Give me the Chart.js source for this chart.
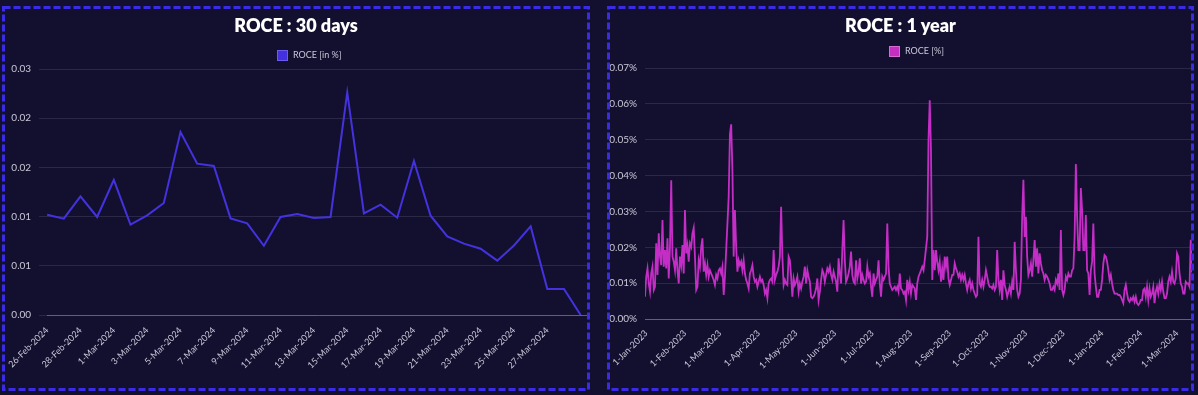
<!DOCTYPE html>
<html><head><meta charset="utf-8">
<script src="https://cdn.jsdelivr.net/npm/chart.js@4.4.1/dist/chart.umd.min.js"></script>
<style>
html,body{margin:0;padding:0;background:#13102f;width:1198px;height:395px;overflow:hidden;font-family:Lato,sans-serif;}
svg.frame{position:absolute;left:0;top:0;z-index:2;pointer-events:none}
canvas{position:absolute;top:0}
.title{position:absolute;color:#fff;font-weight:800;font-size:18px;text-align:center;top:14px;line-height:22px;z-index:3}
.legend{position:absolute;color:#c9c7d8;font-size:9px;line-height:12px;z-index:3;white-space:nowrap}
.legend i{display:inline-block;width:11px;height:11px;vertical-align:middle;margin-right:5px;box-sizing:border-box}
</style></head><body>
<svg class="frame" width="1198" height="395">
  <rect x="3.5" y="7.5" width="585" height="382" fill="none" stroke="#3a2ce6" stroke-width="3" stroke-dasharray="7 3"/>
  <rect x="608.5" y="7.5" width="584" height="382" fill="none" stroke="#3a2ce6" stroke-width="3" stroke-dasharray="7 3"/>
</svg>
<div class="title" style="left:2px;width:588px">ROCE : 30 days</div>
<div class="title" style="left:607px;width:587px">ROCE : 1 year</div>
<div class="legend" style="left:277px;top:49px"><i style="background:#4431dd;border:1px solid #6a5cf0"></i>ROCE [in %]</div>
<div class="legend" style="left:889px;top:45px"><i style="background:#c42fc2;border:1px solid #d86ad6"></i>ROCE [%]</div>
<canvas id="c1" width="600" height="395" style="left:0"></canvas>
<canvas id="c2" width="598" height="395" style="left:600px"></canvas>
<script>
// ---------- Left chart data (30 days) ----------
const leftStart = '2024-02-26';
const leftValues = [0.01019,0.00979,0.01205,0.00996,0.01372,0.00918,0.01012,0.01138,0.0186,0.01538,
  0.01514,0.00982,0.00931,0.00704,0.00996,0.01026,0.00986,0.00996,0.02262,0.01033,
  0.01121,0.00989,0.01565,0.01009,0.00799,0.00725,0.00674,0.00552,0.00707,0.009,
  0.00264,0.00264,0.0];
const leftXTickLabels = ['26-Feb-2024','28-Feb-2024','1-Mar-2024','3-Mar-2024','5-Mar-2024','7-Mar-2024',
  '9-Mar-2024','11-Mar-2024','13-Mar-2024','15-Mar-2024','17-Mar-2024','19-Mar-2024','21-Mar-2024',
  '23-Mar-2024','25-Mar-2024','27-Mar-2024'];
const leftYTickLabels = ['0.00','0.01','0.01','0.02','0.02','0.03'];

// ---------- Right chart data (1 year, daily, in %) ----------
const rightStart = '2022-12-31';
const rightValues = [
0.0062,0.0118,0.0141,0.0099,0.0076,0.0127,0.0146,0.0081,0.0090,0.0211,
0.0123,0.0239,0.0174,0.0150,0.0276,0.0146,0.0192,0.0141,0.0225,0.0113,
0.0201,0.0387,0.0174,0.0160,0.0136,0.0197,0.0136,0.0099,0.0174,0.0150,
0.0206,0.0127,0.0304,0.0183,0.0206,0.0160,0.0211,0.0201,0.0239,0.0254,
0.0174,0.0081,0.0090,0.0164,0.0146,0.0201,0.0225,0.0132,0.0155,0.0123,
0.0150,0.0118,0.0136,0.0127,0.0118,0.0109,0.0095,0.0123,0.0113,0.0136,
0.0141,0.0127,0.0146,0.0067,0.0118,0.0192,0.0266,0.0340,0.0515,0.0543,
0.0415,0.0174,0.0304,0.0201,0.0132,0.0164,0.0150,0.0160,0.0136,0.0164,
0.0127,0.0109,0.0099,0.0085,0.0127,0.0136,0.0150,0.0118,0.0104,0.0109,
0.0090,0.0104,0.0118,0.0104,0.0109,0.0095,0.0071,0.0081,0.0058,0.0099,
0.0109,0.0113,0.0104,0.0192,0.0109,0.0123,0.0132,0.0146,0.0174,0.0313,
0.0174,0.0095,0.0109,0.0099,0.0095,0.0174,0.0164,0.0118,0.0062,0.0113,
0.0095,0.0104,0.0118,0.0076,0.0099,0.0085,0.0104,0.0118,0.0146,0.0099,
0.0136,0.0118,0.0104,0.0062,0.0058,0.0062,0.0071,0.0085,0.0113,0.0053,
0.0076,0.0109,0.0136,0.0127,0.0104,0.0123,0.0141,0.0132,0.0146,0.0123,
0.0109,0.0132,0.0118,0.0104,0.0076,0.0169,0.0127,0.0099,0.0192,0.0276,
0.0164,0.0104,0.0113,0.0127,0.0146,0.0188,0.0123,0.0104,0.0099,0.0164,
0.0113,0.0132,0.0169,0.0099,0.0123,0.0109,0.0099,0.0104,0.0146,0.0118,
0.0127,0.0090,0.0062,0.0127,0.0099,0.0109,0.0118,0.0164,0.0099,0.0062,
0.0118,0.0109,0.0118,0.0127,0.0266,0.0146,0.0099,0.0090,0.0081,0.0085,
0.0090,0.0081,0.0090,0.0076,0.0127,0.0085,0.0081,0.0071,0.0076,0.0053,
0.0109,0.0081,0.0104,0.0071,0.0095,0.0090,0.0085,0.0053,0.0099,0.0118,
0.0127,0.0136,0.0146,0.0136,0.0164,0.0197,0.0229,0.0499,0.0610,0.0469,
0.0109,0.0192,0.0136,0.0192,0.0160,0.0136,0.0160,0.0104,0.0141,0.0109,
0.0174,0.0146,0.0174,0.0113,0.0095,0.0109,0.0123,0.0123,0.0155,0.0141,
0.0132,0.0118,0.0127,0.0109,0.0123,0.0109,0.0123,0.0099,0.0081,0.0099,
0.0109,0.0085,0.0099,0.0081,0.0071,0.0062,0.0067,0.0229,0.0099,0.0090,
0.0109,0.0090,0.0109,0.0136,0.0118,0.0099,0.0090,0.0090,0.0085,0.0095,
0.0081,0.0090,0.0192,0.0109,0.0081,0.0109,0.0053,0.0136,0.0095,0.0081,
0.0062,0.0076,0.0090,0.0071,0.0104,0.0081,0.0215,0.0136,0.0081,0.0062,
0.0071,0.0109,0.0285,0.0388,0.0229,0.0285,0.0174,0.0123,0.0136,0.0155,
0.0118,0.0164,0.0220,0.0146,0.0197,0.0127,0.0183,0.0155,0.0136,0.0127,
0.0109,0.0123,0.0118,0.0109,0.0099,0.0081,0.0081,0.0090,0.0081,0.0109,
0.0099,0.0127,0.0081,0.0248,0.0081,0.0067,0.0081,0.0118,0.0109,0.0127,
0.0118,0.0118,0.0136,0.0141,0.0229,0.0432,0.0285,0.0192,0.0192,0.0365,
0.0304,0.0192,0.0192,0.0290,0.0136,0.0127,0.0067,0.0136,0.0160,0.0266,
0.0127,0.0090,0.0062,0.0062,0.0081,0.0081,0.0109,0.0155,0.0178,0.0174,
0.0160,0.0136,0.0109,0.0123,0.0099,0.0081,0.0071,0.0071,0.0071,0.0067,
0.0067,0.0062,0.0053,0.0044,0.0081,0.0095,0.0071,0.0053,0.0048,0.0058,
0.0053,0.0062,0.0048,0.0062,0.0044,0.0039,0.0044,0.0053,0.0053,0.0081,
0.0085,0.0062,0.0090,0.0053,0.0085,0.0062,0.0071,0.0090,0.0044,0.0076,
0.0090,0.0071,0.0099,0.0081,0.0104,0.0076,0.0058,0.0058,0.0071,0.0104,
0.0118,0.0104,0.0132,0.0104,0.0099,0.0113,0.0183,0.0174,0.0127,0.0099,
0.0090,0.0071,0.0071,0.0104,0.0099,0.0099,0.0090,0.0221,0.0130];
const rightYTickLabels = ['0.00%','0.01%','0.02%','0.03%','0.04%','0.05%','0.06%','0.07%'];

// ---------- helpers ----------
const MONTHS = ['Jan','Feb','Mar','Apr','May','Jun','Jul','Aug','Sep','Oct','Nov','Dec'];
function makeDates(start, n){
  const out=[]; const d=new Date(start+'T00:00:00Z');
  for(let i=0;i<n;i++){ const t=new Date(d.getTime()+i*86400000);
    out.push(t.getUTCDate()+'-'+MONTHS[t.getUTCMonth()]+'-'+t.getUTCFullYear()); }
  return out;
}
const leftDates = makeDates(leftStart, leftValues.length);
const rightDates = makeDates(rightStart, rightValues.length);
const leftTickIdx = leftXTickLabels.map(l => leftDates.indexOf(l));
const rightTickIdx = rightDates.map((d,i)=> d.startsWith('1-') ? i : -1).filter(i=>i>=0);

const tickColor = '#c9c7d8';
const gridColor = '#2b2846';
const baseColor = '#625f79';
const font = {family:'Lato, sans-serif', size:10};

new Chart(document.getElementById('c1'), {
  type:'line',
  data:{ datasets:[{ label:'ROCE [in %]', data: leftValues.map((v,i)=>({x:i,y:v})),
    borderColor:'#4332de', backgroundColor:'#4332de', borderWidth:2, pointRadius:0, tension:0 }]},
  options:{
    responsive:false, animation:false, devicePixelRatio:1,
    layout:{padding:{left:0,right:11,top:69,bottom:0}},
    plugins:{legend:{display:false}, title:{display:false}, tooltip:{enabled:false}},
    scales:{
      x:{ type:'linear', min:0, max:32.5,
        afterBuildTicks: s => { s.ticks = leftTickIdx.map(v=>({value:v})); },
        afterFit: s => { s.height = 80; },
        grid:{display:false, drawTicks:false},
        border:{display:true, color:baseColor, width:1},
        ticks:{ autoSkip:false, minRotation:45, maxRotation:45, padding:10, color:tickColor,
          font:{family:'Lato, sans-serif', size:9}, callback: v => leftDates[v] } },
      y:{ min:0, max:0.025,
        afterBuildTicks: s => { s.ticks = leftYTickLabels.map((l,i)=>({value:i*0.005})); },
        afterFit: s => { s.width = 41; },
        grid:{color:gridColor, drawTicks:true, tickLength:8},
        border:{display:false},
        ticks:{ padding:8, color:tickColor, font, callback:(v,i)=>leftYTickLabels[i] } }
    }
  }
});

new Chart(document.getElementById('c2'), {
  type:'line',
  data:{ datasets:[{ label:'ROCE [%]', data: rightValues.map((v,i)=>({x:i,y:v})),
    borderColor:'#c52ec6', backgroundColor:'#c52ec6', borderWidth:1.8, pointRadius:0, tension:0 }]},
  options:{
    responsive:false, animation:false, devicePixelRatio:1,
    layout:{padding:{left:0,right:6,top:68,bottom:0}},
    plugins:{legend:{display:false}, title:{display:false}, tooltip:{enabled:false}},
    scales:{
      x:{ type:'linear', min:0, max:rightValues.length-1,
        afterBuildTicks: s => { s.ticks = rightTickIdx.map(v=>({value:v})); },
        afterFit: s => { s.height = 76; },
        grid:{display:false, drawTicks:false},
        border:{display:true, color:baseColor, width:1},
        ticks:{ autoSkip:false, minRotation:45, maxRotation:45, padding:9, color:tickColor,
          font:{family:'Lato, sans-serif', size:9}, callback: v => rightDates[v] } },
      y:{ min:0, max:0.07,
        afterBuildTicks: s => { s.ticks = rightYTickLabels.map((l,i)=>({value:i*0.01})); },
        afterFit: s => { s.width = 45; },
        grid:{color:gridColor, drawTicks:false},
        border:{display:false},
        ticks:{ padding:8, color:tickColor, font, callback:(v,i)=>rightYTickLabels[i] } }
    }
  }
});
</script>
</body></html>
